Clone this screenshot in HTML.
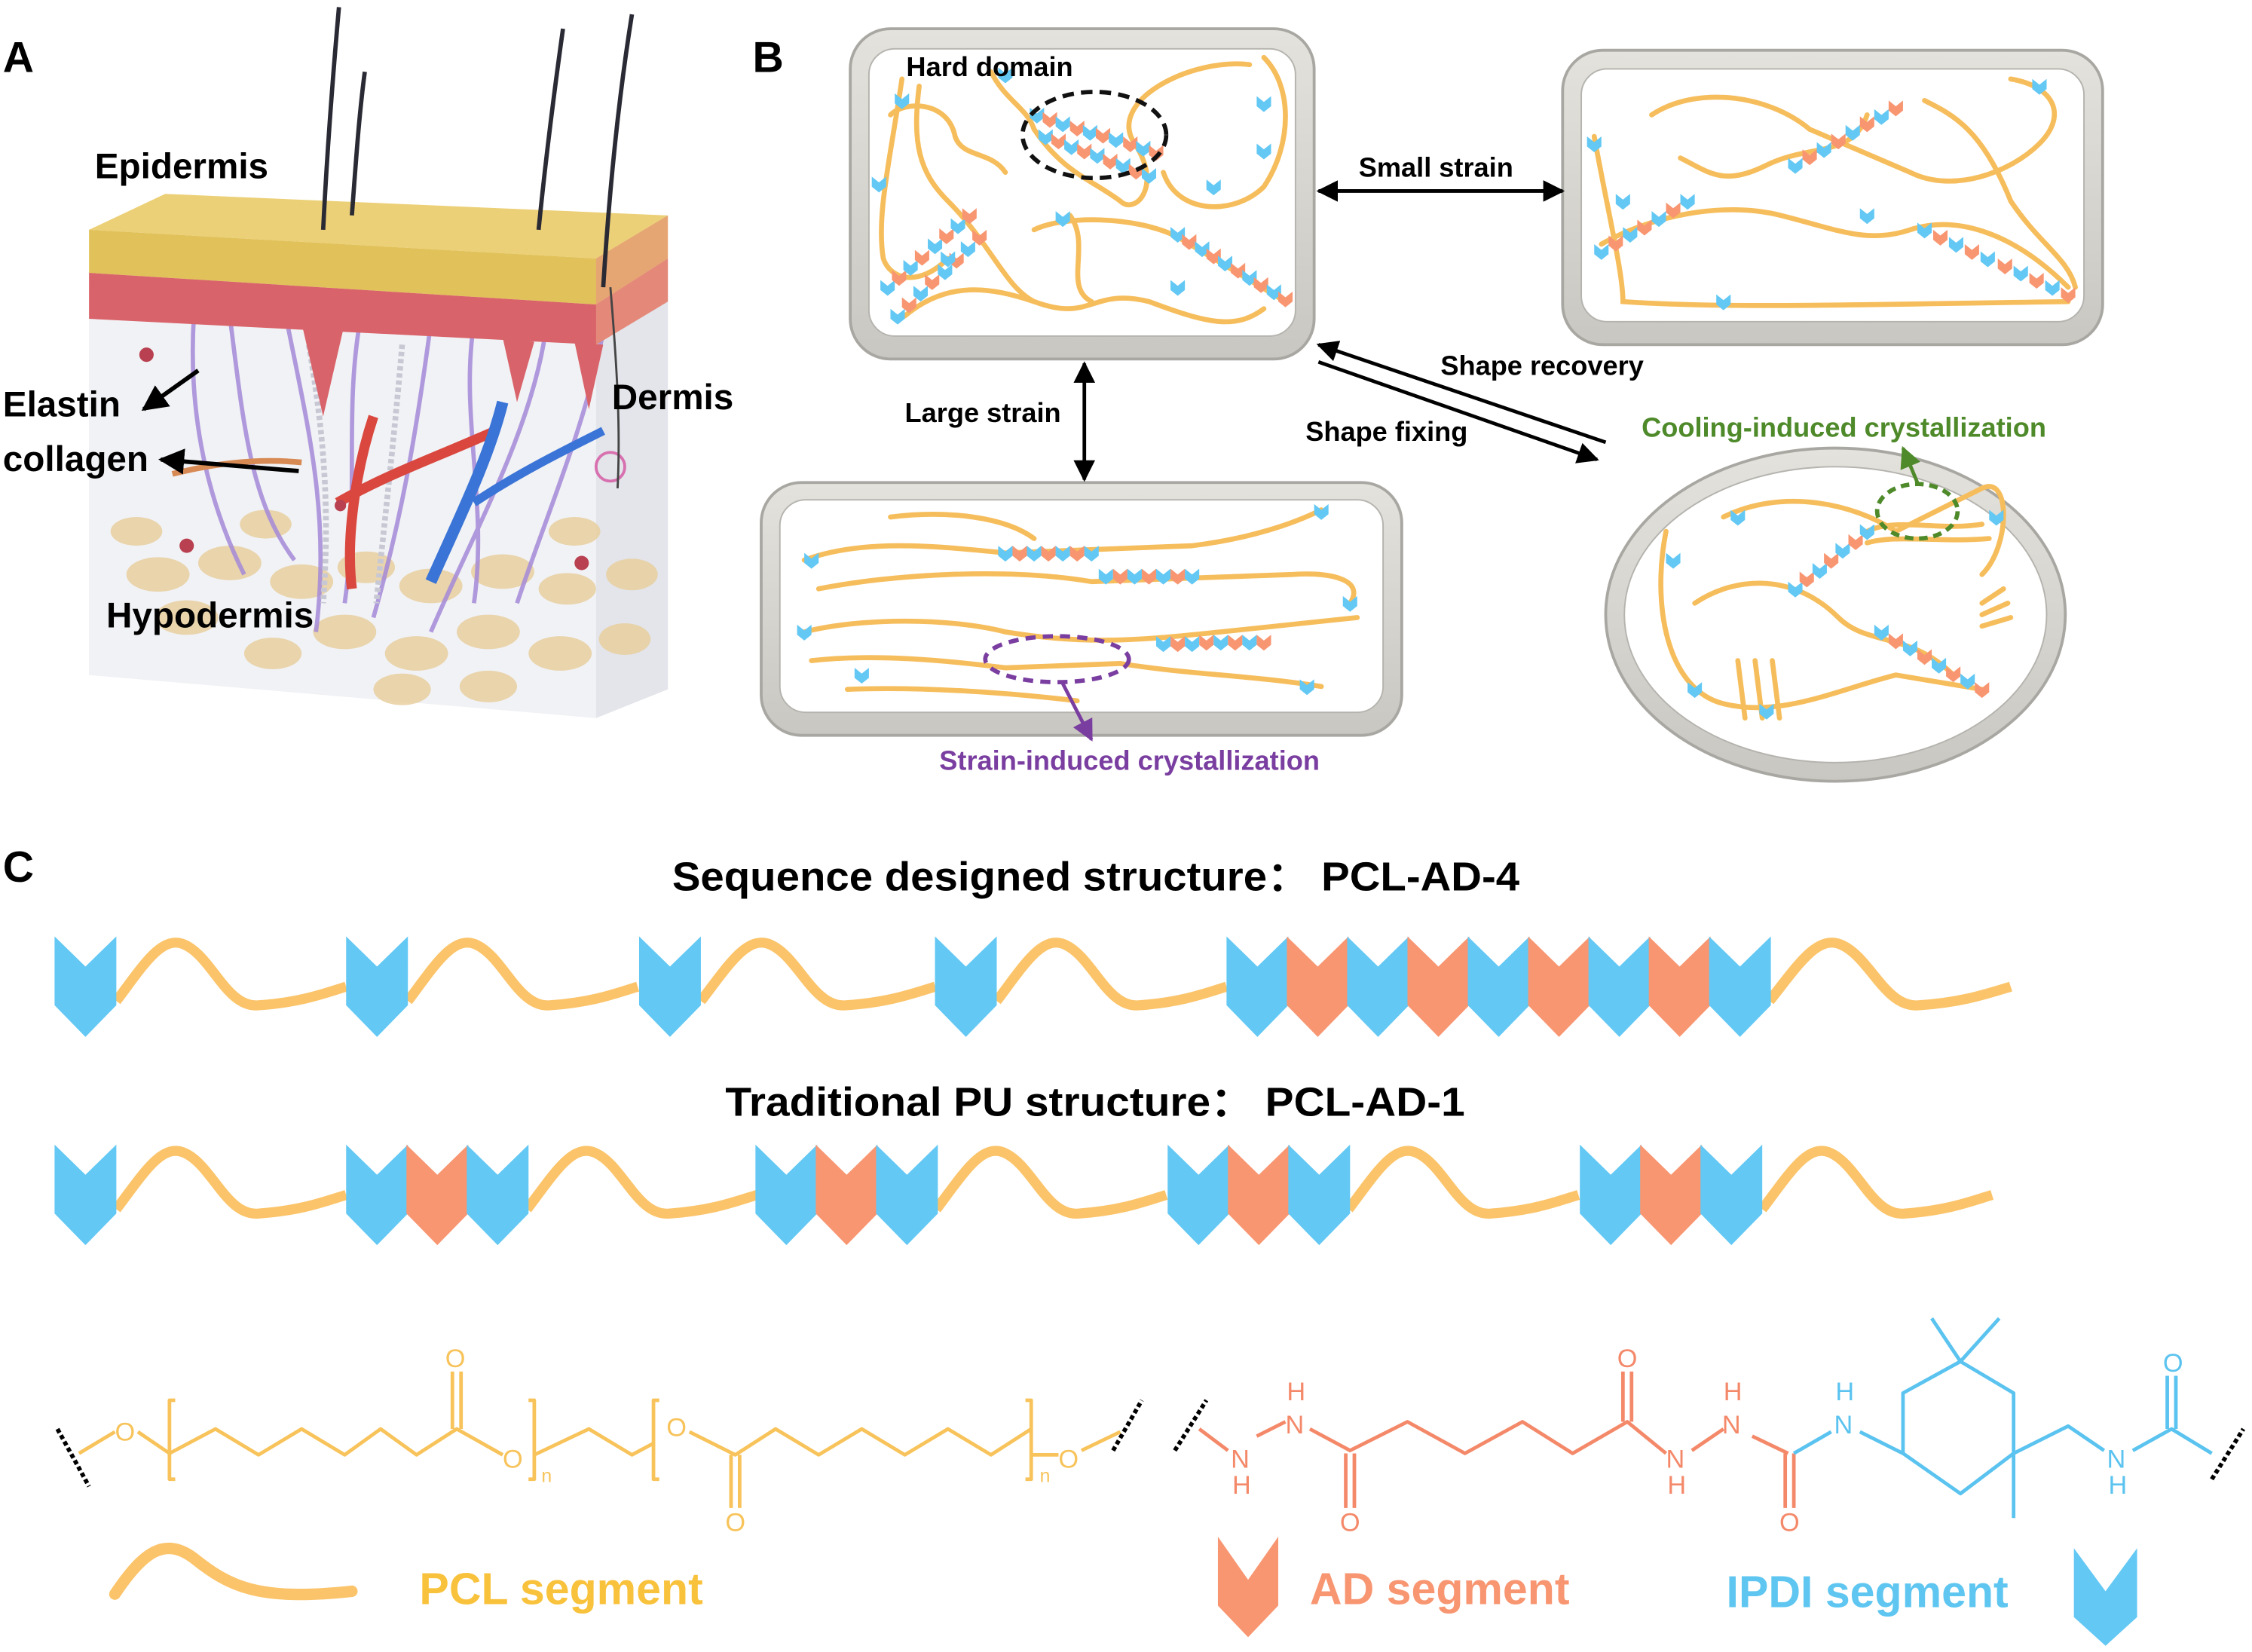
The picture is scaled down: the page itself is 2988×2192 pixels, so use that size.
<!DOCTYPE html>
<html><head><meta charset="utf-8"><style>
html,body{margin:0;padding:0;background:#fff}
svg{display:block}
text{font-family:"Liberation Sans",sans-serif;font-weight:bold}
.n{font-weight:normal}
</style></head><body>
<svg width="2988" height="2192" viewBox="0 0 1568 1150.3" preserveAspectRatio="none" xmlns="http://www.w3.org/2000/svg" xmlns:xlink="http://www.w3.org/1999/xlink">
<defs>
<marker id="ah" viewBox="0 0 10 10" refX="9" refY="5" markerWidth="6" markerHeight="6" orient="auto-start-reverse"><path d="M0,0L10,5L0,10z" fill="#000"/></marker>
<marker id="ag" viewBox="0 0 10 10" refX="9" refY="5" markerWidth="6" markerHeight="6" orient="auto"><path d="M0,0L10,5L0,10z" fill="#4e8a2a"/></marker>
<marker id="ap" viewBox="0 0 10 10" refX="9" refY="5" markerWidth="6" markerHeight="6" orient="auto"><path d="M0,0L10,5L0,10z" fill="#7a3ea0"/></marker>
<linearGradient id="fr" x1="0" y1="0" x2="0" y2="1"><stop offset="0" stop-color="#e4e2dc"/><stop offset="1" stop-color="#c9c7c1"/></linearGradient>
<path id="cb" d="M0,0 L21.5,21 L43,0 L43,48 L21.5,70 L0,48Z" fill="#63c8f4"/>
<path id="cs" d="M0,0 L21.5,21 L43,0 L43,48 L21.5,70 L0,48Z" fill="#f89672"/>
<path id="wv" d="M0,45 C19,20 32,-2 48,6 C67,15 77,50 99,48 C128,46 144,40 160,35" fill="none" stroke="#fbc46a" stroke-width="7"/>
<path id="sb" d="M-5,-5 L0,-1 L5,-5 L5,2 L0,6 L-5,2Z" fill="#63c8f4"/>
<path id="ss" d="M-5,-5 L0,-1 L5,-5 L5,2 L0,6 L-5,2Z" fill="#f89672"/>
</defs>

<!-- Panel A -->
<text x="2" y="50" font-size="30">A</text>
<g>
 <polygon points="62,200 415,222 465,180 465,480 415,500 62,470" fill="#eceef2" opacity="0.8"/>
 <polygon points="415,222 465,180 465,480 415,500" fill="#e3e5ea"/>
 <polygon points="62,200 415,222 415,500 62,470" fill="#f1f2f5"/>
 <g fill="#e8cfa0" opacity="0.85">
  <ellipse cx="110" cy="400" rx="22" ry="12"/><ellipse cx="160" cy="392" rx="22" ry="12"/><ellipse cx="210" cy="405" rx="22" ry="12"/><ellipse cx="255" cy="395" rx="20" ry="11"/>
  <ellipse cx="300" cy="408" rx="22" ry="12"/><ellipse cx="350" cy="398" rx="22" ry="12"/><ellipse cx="395" cy="410" rx="20" ry="11"/><ellipse cx="440" cy="400" rx="18" ry="11"/>
  <ellipse cx="130" cy="430" rx="22" ry="12"/><ellipse cx="240" cy="440" rx="22" ry="12"/><ellipse cx="290" cy="455" rx="22" ry="12"/><ellipse cx="340" cy="440" rx="22" ry="12"/>
  <ellipse cx="390" cy="455" rx="22" ry="12"/><ellipse cx="435" cy="445" rx="18" ry="11"/><ellipse cx="190" cy="455" rx="20" ry="11"/><ellipse cx="280" cy="480" rx="20" ry="11"/>
  <ellipse cx="340" cy="478" rx="20" ry="11"/><ellipse cx="95" cy="370" rx="18" ry="10"/><ellipse cx="185" cy="365" rx="18" ry="10"/><ellipse cx="400" cy="370" rx="18" ry="10"/>
 </g>
 <g fill="none" stroke="#a48ad8" stroke-width="3" opacity="0.85">
  <path d="M135,220 C130,300 150,360 170,400"/><path d="M160,220 C170,300 175,350 205,390"/><path d="M300,225 C290,300 280,360 260,430"/>
  <path d="M330,225 C320,290 340,350 330,420"/><path d="M380,230 C370,300 330,370 300,440"/><path d="M420,230 C410,290 380,360 360,420"/>
  <path d="M250,228 C240,290 250,350 240,420"/><path d="M200,225 C215,300 230,360 220,440"/>
 </g>
 <g fill="none" stroke="#c8c8d4" stroke-width="4" stroke-dasharray="3 2">
  <path d="M215,240 C225,300 230,350 225,420"/><path d="M280,240 C275,300 268,360 262,420"/>
 </g>
 <path d="M120,330 C160,320 190,320 210,322" stroke="#d88a55" stroke-width="4" fill="none"/>
 <path d="M235,350 C270,330 300,320 345,300" stroke="#d9473e" stroke-width="7" fill="none"/>
 <path d="M245,410 C240,370 250,320 260,290" stroke="#d9473e" stroke-width="7" fill="none"/>
 <path d="M300,405 C320,360 340,320 350,280" stroke="#3a74d6" stroke-width="8" fill="none"/>
 <path d="M330,350 C360,330 390,315 420,300" stroke="#3a74d6" stroke-width="6" fill="none"/>
 <circle cx="102" cy="247" r="5" fill="#b84050"/><circle cx="130" cy="380" r="5" fill="#b84050"/><circle cx="405" cy="392" r="5" fill="#b84050"/><circle cx="237" cy="352" r="4" fill="#b84050"/>
 <circle cx="425" cy="325" r="10" fill="none" stroke="#d870b0" stroke-width="2"/>
 <polygon points="62,160 115,135 465,150 415,180 62,160" fill="#ecd077"/>
 <polygon points="62,160 415,180 465,150 465,180 415,212 62,190" fill="#e1c159"/>
 <polygon points="62,190 415,212 465,180 465,210 415,240 62,222" fill="#d9636a"/>
 <path d="M210,225 L225,290 L240,225 Z M350,235 L360,280 L372,238 Z M400,238 L410,285 L420,240Z" fill="#d9636a"/>
 <polygon points="415,180 465,150 465,210 415,240" fill="#e89a80" opacity="0.7"/>
 <g stroke="#2a2a35" stroke-width="3" fill="none">
  <path d="M225,160 C228,100 232,50 236,5"/><path d="M245,150 C248,110 250,80 254,50"/><path d="M375,160 C380,110 385,70 392,20"/><path d="M420,200 C425,120 432,60 440,10"/>
 </g>
 <path d="M425,200 C430,260 432,300 430,340" stroke="#444" stroke-width="1.5" fill="none"/>
 <line x1="138" y1="258" x2="100" y2="285" stroke="#000" stroke-width="3" marker-end="url(#ah)"/>
 <line x1="208" y1="328" x2="112" y2="320" stroke="#000" stroke-width="3" marker-end="url(#ah)"/>
</g>
<text x="66" y="124" font-size="25">Epidermis</text>
<text x="2" y="290" font-size="25">Elastin</text>
<text x="2" y="328" font-size="25">collagen</text>
<text x="426" y="285" font-size="25">Dermis</text>
<text x="74" y="437" font-size="25">Hypodermis</text>

<!-- Panel B -->
<text x="524" y="50" font-size="30">B</text>
<g>
 <rect x="592" y="20" width="323" height="230" rx="28" fill="url(#fr)" stroke="#a9a7a2" stroke-width="2"/>
 <rect x="605" y="34" width="297" height="200" rx="18" fill="#fff" stroke="#b5b3ae"/>
 <rect x="1088" y="35" width="376" height="205" rx="28" fill="url(#fr)" stroke="#a9a7a2" stroke-width="2"/>
 <rect x="1101" y="48" width="350" height="176" rx="18" fill="#fff" stroke="#b5b3ae"/>
 <rect x="530" y="336" width="446" height="176" rx="28" fill="url(#fr)" stroke="#a9a7a2" stroke-width="2"/>
 <rect x="543" y="348" width="420" height="148" rx="18" fill="#fff" stroke="#b5b3ae"/>
 <ellipse cx="1278" cy="428" rx="160" ry="116" fill="url(#fr)" stroke="#a9a7a2" stroke-width="2"/>
 <ellipse cx="1278" cy="428" rx="147" ry="103" fill="#fff" stroke="#b5b3ae"/>
</g>
<g fill="none" stroke="#f6bd5c" stroke-width="3.5" stroke-linecap="round">
 <path d="M628,55 C620,110 610,150 615,180 C620,195 640,200 660,180"/>
 <path d="M640,60 C635,100 640,120 660,140 C690,170 700,200 720,210"/>
 <path d="M690,50 C700,70 715,75 720,90 C740,120 760,125 780,140 C790,150 810,130 790,100 C770,70 830,40 870,45"/>
 <path d="M880,40 C900,60 900,100 880,130 C860,150 820,150 810,120"/>
 <path d="M630,220 C660,195 690,200 720,210 C760,225 760,200 800,210 C840,225 860,230 880,215"/>
 <path d="M720,160 C740,150 790,150 820,165 L895,210"/>
 <path d="M745,150 C760,170 740,200 760,210"/>
 <path d="M620,80 C630,70 660,70 665,95 C670,110 690,105 700,120"/>
 <path d="M1110,95 C1120,150 1130,190 1130,210 C1200,215 1300,212 1440,210"/>
 <path d="M1150,80 C1180,60 1230,65 1260,90 L1330,120 C1360,135 1400,120 1420,100 C1440,80 1430,60 1400,55"/>
 <path d="M1115,170 C1150,150 1200,140 1240,150 C1280,160 1300,170 1330,160 C1360,150 1400,160 1440,200"/>
 <path d="M1170,110 C1190,120 1200,130 1230,115 C1260,100 1290,110 1300,80"/>
 <path d="M1340,70 C1360,80 1380,90 1400,140 C1420,170 1440,180 1445,200"/>
 <path d="M560,390 C600,375 650,380 700,385 L830,380 C870,375 900,365 920,355"/>
 <path d="M570,410 C620,400 700,395 760,405 L900,400 C930,398 950,405 940,420"/>
 <path d="M560,440 C600,430 660,430 700,440 C760,450 800,445 850,440 L945,430"/>
 <path d="M565,460 C610,455 660,460 700,465 L780,462 C830,470 870,470 920,478"/>
 <path d="M590,480 C640,478 700,482 750,488"/>
 <path d="M620,360 C660,355 700,360 720,375"/>
 <path d="M1160,370 C1150,420 1160,480 1200,490 C1240,500 1280,480 1320,470 L1380,480"/>
 <path d="M1200,360 C1240,340 1290,350 1320,370 L1380,340 C1400,330 1400,380 1380,400"/>
 <path d="M1180,420 C1210,400 1250,400 1280,430 C1300,450 1330,440 1360,470"/>
 <path d="M1210,460 L1215,500 M1222,460 L1227,500 M1234,460 L1239,500"/>
 <path d="M1300,370 C1320,360 1350,370 1380,365 M1300,378 C1320,372 1350,378 1385,375"/>
 <path d="M1380,420 L1395,410 M1380,428 L1398,420 M1380,436 L1400,430"/>
</g>
<g>
 <use href="#sb" x="722" y="80"/><use href="#ss" x="731" y="83"/><use href="#sb" x="740" y="86"/><use href="#ss" x="750" y="89"/><use href="#sb" x="759" y="92"/><use href="#ss" x="768" y="94"/><use href="#sb" x="777" y="97"/><use href="#ss" x="787" y="100"/><use href="#sb" x="796" y="103"/><use href="#ss" x="805" y="106"/>
 <use href="#sb" x="728" y="95"/><use href="#ss" x="737" y="98"/><use href="#sb" x="746" y="102"/><use href="#ss" x="755" y="105"/><use href="#sb" x="764" y="108"/><use href="#ss" x="773" y="112"/><use href="#sb" x="782" y="115"/><use href="#ss" x="791" y="119"/><use href="#sb" x="800" y="122"/>
 <use href="#sb" x="618" y="200"/><use href="#ss" x="626" y="193"/><use href="#sb" x="634" y="186"/><use href="#ss" x="642" y="179"/><use href="#sb" x="651" y="171"/><use href="#ss" x="659" y="164"/><use href="#sb" x="667" y="157"/><use href="#ss" x="675" y="150"/>
 <use href="#sb" x="625" y="220"/><use href="#ss" x="633" y="212"/><use href="#sb" x="641" y="204"/><use href="#ss" x="649" y="196"/><use href="#sb" x="658" y="189"/><use href="#ss" x="666" y="181"/><use href="#sb" x="674" y="173"/><use href="#ss" x="682" y="165"/>
 <use href="#sb" x="820" y="163"/><use href="#ss" x="828" y="168"/><use href="#sb" x="837" y="173"/><use href="#ss" x="845" y="178"/><use href="#sb" x="853" y="183"/><use href="#ss" x="862" y="188"/><use href="#sb" x="870" y="193"/><use href="#ss" x="878" y="198"/><use href="#sb" x="887" y="203"/><use href="#ss" x="895" y="208"/>
 <use href="#sb" x="1250" y="115"/><use href="#ss" x="1260" y="109"/><use href="#sb" x="1270" y="104"/><use href="#ss" x="1280" y="98"/><use href="#sb" x="1290" y="92"/><use href="#ss" x="1300" y="86"/><use href="#sb" x="1310" y="81"/><use href="#ss" x="1320" y="75"/>
 <use href="#sb" x="1340" y="160"/><use href="#ss" x="1351" y="165"/><use href="#sb" x="1362" y="170"/><use href="#ss" x="1373" y="175"/><use href="#sb" x="1384" y="180"/><use href="#ss" x="1396" y="185"/><use href="#sb" x="1407" y="190"/><use href="#ss" x="1418" y="195"/><use href="#sb" x="1429" y="200"/><use href="#ss" x="1440" y="205"/>
 <use href="#sb" x="1115" y="175"/><use href="#ss" x="1125" y="169"/><use href="#sb" x="1135" y="163"/><use href="#ss" x="1145" y="158"/><use href="#sb" x="1155" y="152"/><use href="#ss" x="1165" y="146"/><use href="#sb" x="1175" y="140"/>
 <use href="#sb" x="700" y="385"/><use href="#ss" x="710" y="385"/><use href="#sb" x="720" y="385"/><use href="#ss" x="730" y="385"/><use href="#sb" x="740" y="385"/><use href="#ss" x="750" y="385"/><use href="#sb" x="760" y="385"/>
 <use href="#sb" x="770" y="401"/><use href="#ss" x="780" y="401"/><use href="#sb" x="790" y="401"/><use href="#ss" x="800" y="401"/><use href="#sb" x="810" y="401"/><use href="#ss" x="820" y="401"/><use href="#sb" x="830" y="401"/>
 <use href="#sb" x="810" y="448"/><use href="#ss" x="820" y="448"/><use href="#sb" x="830" y="448"/><use href="#ss" x="840" y="447"/><use href="#sb" x="850" y="447"/><use href="#ss" x="860" y="447"/><use href="#sb" x="870" y="447"/><use href="#ss" x="880" y="447"/>
 <use href="#sb" x="1250" y="410"/><use href="#ss" x="1258" y="403"/><use href="#sb" x="1267" y="397"/><use href="#ss" x="1275" y="390"/><use href="#sb" x="1283" y="383"/><use href="#ss" x="1292" y="377"/><use href="#sb" x="1300" y="370"/>
 <use href="#sb" x="1310" y="440"/><use href="#ss" x="1320" y="446"/><use href="#sb" x="1330" y="451"/><use href="#ss" x="1340" y="457"/><use href="#sb" x="1350" y="463"/><use href="#ss" x="1360" y="469"/><use href="#sb" x="1370" y="474"/><use href="#ss" x="1380" y="480"/>
 <use href="#sb" x="628" y="70"/><use href="#sb" x="700" y="52"/><use href="#sb" x="880" y="72"/><use href="#sb" x="612" y="128"/><use href="#sb" x="880" y="105"/><use href="#sb" x="845" y="130"/><use href="#sb" x="820" y="200"/><use href="#sb" x="740" y="152"/><use href="#sb" x="660" y="180"/><use href="#sb" x="1110" y="100"/><use href="#sb" x="1300" y="150"/><use href="#sb" x="1420" y="60"/><use href="#sb" x="1200" y="210"/><use href="#sb" x="1130" y="140"/><use href="#sb" x="565" y="390"/><use href="#sb" x="920" y="356"/><use href="#sb" x="940" y="420"/><use href="#sb" x="560" y="440"/><use href="#sb" x="600" y="470"/><use href="#sb" x="910" y="478"/><use href="#sb" x="1165" y="390"/><use href="#sb" x="1210" y="360"/><use href="#sb" x="1390" y="360"/><use href="#sb" x="1230" y="495"/><use href="#sb" x="1180" y="480"/>
</g>
<ellipse cx="762" cy="94" rx="50" ry="30" fill="none" stroke="#111" stroke-width="3" stroke-dasharray="8 5"/>
<ellipse cx="736" cy="459" rx="50" ry="16" fill="none" stroke="#7a3ea0" stroke-width="3" stroke-dasharray="7 5"/>
<ellipse cx="1335" cy="356" rx="28" ry="19" fill="none" stroke="#4e8a2a" stroke-width="3" stroke-dasharray="6 4"/>
<line x1="740" y1="476" x2="760" y2="515" stroke="#7a3ea0" stroke-width="2.5" marker-end="url(#ap)"/>
<line x1="1335" y1="336" x2="1325" y2="312" stroke="#4e8a2a" stroke-width="2.5" marker-end="url(#ag)"/>
<text x="631" y="53" font-size="19">Hard domain</text>
<line x1="918" y1="133" x2="1088" y2="133" stroke="#000" stroke-width="2.5" marker-start="url(#ah)" marker-end="url(#ah)"/>
<text x="946" y="123" font-size="19">Small strain</text>
<line x1="755" y1="253" x2="755" y2="334" stroke="#000" stroke-width="2.5" marker-start="url(#ah)" marker-end="url(#ah)"/>
<text x="630" y="294" font-size="19">Large strain</text>
<line x1="1118" y1="308" x2="918" y2="240" stroke="#000" stroke-width="2.5" marker-end="url(#ah)"/>
<line x1="918" y1="252" x2="1112" y2="320" stroke="#000" stroke-width="2.5" marker-end="url(#ah)"/>
<text x="1003" y="261" font-size="19">Shape recovery</text>
<text x="909" y="307" font-size="19">Shape fixing</text>
<text x="1143" y="304" font-size="19" fill="#4e8a2a">Cooling-induced crystallization</text>
<text x="654" y="536" font-size="19" fill="#7a3ea0">Strain-induced crystallization</text>

<!-- Panel C -->
<text x="2" y="614" font-size="30">C</text>
<text x="468" y="620" font-size="28" textLength="590" lengthAdjust="spacingAndGlyphs">Sequence designed structure： PCL-AD-4</text>
<text x="505" y="777" font-size="28" textLength="515" lengthAdjust="spacingAndGlyphs">Traditional PU structure： PCL-AD-1</text>
<!-- row 1 -->
<g transform="translate(0,652)">
 <use href="#wv" transform="translate(81,0)"/><use href="#wv" transform="translate(284,0)"/><use href="#wv" transform="translate(488,0) scale(1.02,1)"/><use href="#wv" transform="translate(694,0)"/><use href="#wv" transform="translate(1232,0) scale(1.05,1)"/>
 <use href="#cb" x="38"/><use href="#cb" x="241"/><use href="#cb" x="445"/><use href="#cb" x="651"/>
 <use href="#cb" x="854"/><use href="#cs" x="896"/><use href="#cb" x="938"/><use href="#cs" x="980"/><use href="#cb" x="1022"/><use href="#cs" x="1064"/><use href="#cb" x="1106"/><use href="#cs" x="1148"/><use href="#cb" x="1190"/>
</g>
<!-- row 2 -->
<g transform="translate(0,797)">
 <use href="#wv" transform="translate(81,0)"/><use href="#wv" transform="translate(367,0)"/><use href="#wv" transform="translate(652,0)"/><use href="#wv" transform="translate(939,0)"/><use href="#wv" transform="translate(1227,0)"/>
 <use href="#cb" x="38"/>
 <use href="#cb" x="241"/><use href="#cs" x="283"/><use href="#cb" x="325"/>
 <use href="#cb" x="526"/><use href="#cs" x="568"/><use href="#cb" x="610"/>
 <use href="#cb" x="813"/><use href="#cs" x="855"/><use href="#cb" x="897"/>
 <use href="#cb" x="1100"/><use href="#cs" x="1142"/><use href="#cb" x="1184"/>
</g>

<!-- chemistry -->
<g fill="none" stroke-width="2.5" stroke-linejoin="round">
 <g stroke="#000" stroke-width="3" stroke-dasharray="3 2"><path d="M40,995 L62,1035"/><path d="M775,1010 L795,975"/><path d="M818,1010 L840,975"/><path d="M1540,1030 L1562,995"/></g>
 <g stroke="#f7c35a">
  <path d="M55,1012 L80,997"/><path d="M96,997 L118,1012 L150,995 L180,1013 L210,995 L240,1013 L265,995 L290,1013 L318,995 L350,1013"/>
  <path d="M315,995 L315,955 M321,995 L321,955"/><path d="M122,975 L118,975 L118,1030 L122,1030"/><path d="M368,975 L372,975 L372,1030 L368,1030"/>
  <path d="M372,1013 L410,995 L440,1013 L455,1005"/><path d="M459,975 L455,975 L455,1030 L459,1030"/>
  <path d="M480,997 L512,1013 L540,995 L570,1013 L600,995 L630,1013 L660,995 L690,1013 L718,995"/><path d="M509,1013 L509,1050 M515,1013 L515,1050"/>
  <path d="M714,975 L718,975 L718,1030 L714,1030"/><path d="M718,1013 L737,1013 M753,1010 L780,997"/>
 </g>
 <g stroke="#f4896a">
  <path d="M835,995 L855,1010 M875,1000 L895,990 M912,995 L940,1010 L980,990 L1020,1012 L1060,990 L1095,1012 L1133,990 L1160,1012 M1178,1010 L1200,995 M1220,1000 L1245,1012"/>
  <path d="M937,1012 L937,1050 M943,1012 L943,1050 M1130,990 L1130,955 M1136,990 L1136,955 M1243,1012 L1243,1050 M1249,1012 L1249,1050"/>
 </g>
 <g stroke="#5bc3ef">
  <path d="M1249,1012 L1275,997 M1295,997 L1325,1012 L1365,1040 L1402,1012 L1402,970 L1365,948 L1325,970 L1325,1012"/>
  <path d="M1365,948 L1345,918 M1365,948 L1392,918 M1402,1012 L1402,1057 M1402,1012 L1440,993 L1465,1010 M1485,1010 L1512,995 L1540,1012 M1509,995 L1509,958 M1515,995 L1515,958"/>
 </g>
</g>
<g font-size="18">
 <g fill="#f7c35a"><text class="n" x="80" y="1003">O</text><text class="n" x="310" y="952">O</text><text class="n" x="350" y="1022">O</text><text class="n" x="377" y="1032" font-size="13">n</text><text class="n" x="464" y="1000">O</text><text class="n" x="505" y="1066">O</text><text class="n" x="724" y="1032" font-size="13">n</text><text class="n" x="737" y="1022">O</text></g>
 <g fill="#f4896a"><text class="n" x="857" y="1022">N</text><text class="n" x="858" y="1040">H</text><text class="n" x="896" y="975">H</text><text class="n" x="895" y="998">N</text><text class="n" x="933" y="1066">O</text><text class="n" x="1126" y="952">O</text><text class="n" x="1160" y="1022">N</text><text class="n" x="1161" y="1040">H</text><text class="n" x="1200" y="975">H</text><text class="n" x="1199" y="998">N</text><text class="n" x="1239" y="1066">O</text></g>
 <g fill="#5bc3ef"><text class="n" x="1278" y="975">H</text><text class="n" x="1277" y="998">N</text><text class="n" x="1467" y="1022">N</text><text class="n" x="1468" y="1040">H</text><text class="n" x="1506" y="955">O</text></g>
</g>

<!-- legend -->
<path d="M80,1110 C100,1080 115,1070 135,1085 C160,1105 180,1115 245,1108" fill="none" stroke="#fbc46a" stroke-width="8" stroke-linecap="round"/>
<text x="292" y="1117" font-size="31" fill="#f9c23c">PCL segment</text>
<path d="M848,1070 L869,1100 L890,1070 L890,1118 L869,1140 L848,1118Z" fill="#f89672"/>
<text x="912" y="1117" font-size="31" fill="#f89672">AD segment</text>
<text x="1202" y="1119" font-size="31" fill="#5ec6f0">IPDI segment</text>
<path d="M1444,1078 L1466,1108 L1488,1078 L1488,1126 L1466,1146 L1444,1126Z" fill="#63c8f4"/>
</svg>
</body></html>
